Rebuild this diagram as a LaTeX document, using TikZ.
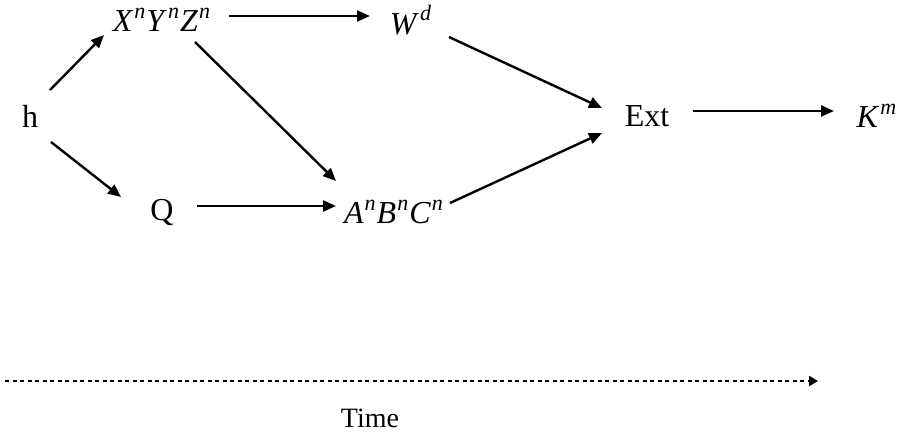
\documentclass[tikz,border=0pt]{standalone}
\usepackage{fontspec}
\setmainfont{Liberation Serif}
\usetikzlibrary{arrows.meta,calc}
\newcommand{\myvar}[2]{\textit{#1}\kern1pt\raisebox{0.42em}{\fontsize{22}{22}\selectfont\textit{#2}}\kern1pt}
\tikzset{
  lbl/.style={inner sep=0pt, font=\fontsize{32}{34}\selectfont},
  arr/.style={line width=2.4pt, -{Triangle[length=13pt,width=11pt]}},
}
\begin{document}
\begin{tikzpicture}[x=1pt,y=-1pt]
\useasboundingbox (0,0) rectangle (901,436);
\node[lbl] (h) at (30,116) {h};
\node[lbl] (xyz) at (162,20) {\myvar{X}{n}\myvar{Y}{n}\myvar{Z}{n}};
\node[lbl] (w) at (411,20) {\myvar{W}{d}};
\node[lbl] (q) at (162,212) {Q};
\node[lbl] (abc) at (394,212) {\myvar{A}{n}\myvar{B}{n}\myvar{C}{n}};
\node[lbl] (ext) at (647,116) {Ext};
\node[lbl] (k) at (877,116) {\myvar{K}{m}};
\node[lbl, font=\fontsize{28}{30}\selectfont] (time) at (370,418) {Time};
\coordinate (ts) at (5,381);
\coordinate (te) at (818,381);

\draw[arr] ($(h)+(20,-26)$) -- ($(xyz)+(-58,15)$);
\draw[arr] ($(h)+(21,26)$) -- ($(q)+(-41,-15)$);
\draw[arr] ($(xyz)+(67,-4)$) -- ($(w)+(-41,-4)$);
\draw[arr] ($(xyz)+(33,22)$) -- ($(abc)+(-58,-31)$);
\draw[arr] ($(q)+(35,-6)$) -- ($(abc)+(-58,-6)$);
\draw[arr] ($(w)+(38,17)$) -- ($(ext)+(-45,-8)$);
\draw[arr] ($(abc)+(56,-9)$) -- ($(ext)+(-45,17)$);
\draw[arr] ($(ext)+(46,-5)$) -- ($(k)+(-43,-5)$);
\draw[line width=2.5pt, dash pattern=on 4pt off 3.5pt, -{Triangle[length=9pt,width=10pt]}] (ts) -- (te);
\end{tikzpicture}
\end{document}
